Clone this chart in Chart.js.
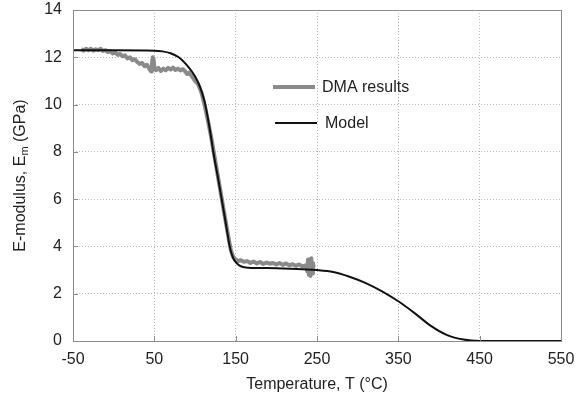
<!DOCTYPE html>
<html>
<head>
<meta charset="utf-8">
<script src="https://cdn.jsdelivr.net/npm/chart.js@4/dist/chart.umd.min.js"></script>
<style>
  html, body { margin: 0; padding: 0; background: #fff; }
  #wrap { width: 576px; height: 394px; }
</style>
</head>
<body>
<div id="wrap"><canvas id="modulus-chart" width="576" height="394"></canvas></div>
<script>
// Model curve (temperature in °C, modulus in GPa)
const modelTemps = [-50, 0, 50, 60, 70, 80, 90, 100, 106, 112, 118, 123, 128, 133, 138, 143, 147, 151, 157, 165, 200, 250, 270, 290, 310, 330, 350, 370, 390, 410, 430, 450, 550];
const modelValues = [12.3, 12.3, 12.28, 12.25, 12.17, 12.0, 11.67, 11.2, 10.76, 10.1, 9.0, 7.9, 6.95, 5.96, 4.95, 3.95, 3.5, 3.3, 3.15, 3.1, 3.08, 3.0, 2.92, 2.72, 2.45, 2.1, 1.68, 1.18, 0.64, 0.25, 0.06, 0, 0];

// DMA measurement (noisy)
const dmaTemps = [-40, -37, -34, -31, -28, -25, -22, -19, -16, -13, -10, -7, -4, -1, 2, 5, 8, 11, 14, 17, 20, 23, 26, 29, 32, 35, 38, 41, 44, 46, 47, 48, 49, 50, 52, 55, 58, 61, 64, 67, 70, 73, 76, 79, 82, 85, 88, 90, 93, 96, 100, 104, 108, 112, 116, 120, 125, 130, 135, 140, 144, 147, 150, 153, 156, 160, 164, 168, 172, 176, 180, 184, 188, 192, 196, 200, 204, 208, 212, 216, 220, 224, 228, 232, 236, 238, 239, 240, 241, 242, 243, 244, 245, 246];
const dmaValues = [12.35, 12.28, 12.36, 12.3, 12.36, 12.28, 12.34, 12.3, 12.36, 12.27, 12.3, 12.22, 12.26, 12.16, 12.2, 12.1, 12.14, 12.04, 12.08, 11.95, 12.0, 11.88, 11.92, 11.8, 11.72, 11.76, 11.62, 11.68, 11.5, 11.4, 11.7, 12.0, 11.95, 11.6, 11.45, 11.55, 11.42, 11.52, 11.45, 11.55, 11.48, 11.56, 11.46, 11.52, 11.44, 11.5, 11.4, 11.3, 11.35, 11.2, 11.0, 10.85, 10.5, 9.95, 9.3, 8.6, 7.6, 6.6, 5.6, 4.6, 3.85, 3.55, 3.45, 3.38, 3.42, 3.35, 3.38, 3.3, 3.36, 3.28, 3.34, 3.26, 3.32, 3.27, 3.3, 3.24, 3.3, 3.22, 3.28, 3.2, 3.25, 3.18, 3.24, 3.15, 3.2, 2.95, 3.45, 2.8, 3.4, 2.75, 3.5, 2.85, 3.3, 3.1];

const xTickValues = [-50, 50, 150, 250, 350, 450, 550];
const yTickValues = [0, 2, 4, 6, 8, 10, 12, 14];

const seriesNames = ['DMA results', 'Model'];
const seriesColors = ['#8a8a8a', '#111111'];

const toPoints = (xs, ys) => xs.map((x, i) => ({ x, y: ys[i] }));

const FONT = 'Liberation Sans, Arial, sans-serif';
const TEXT_COLOR = '#222';
const FRAME_COLOR = '#8c8c8c';
const GRID_COLOR = '#b8b8b8';

// frame, inner ticks, legend and y title with subscript
const decorPlugin = {
  id: 'decor',
  afterDraw(chart) {
    const { ctx, chartArea, scales } = chart;
    const { left, right, top, bottom } = chartArea;
    ctx.save();

    ctx.strokeStyle = FRAME_COLOR;
    ctx.lineWidth = 1;
    ctx.strokeRect(left + 0.5, top + 0.5, right - left, bottom - top);

    ctx.beginPath();
    yTickValues.forEach((v) => {
      const y = Math.round(scales.y.getPixelForValue(v)) + 0.5;
      ctx.moveTo(left, y);
      ctx.lineTo(left + 5, y);
    });
    xTickValues.forEach((v) => {
      const x = Math.round(scales.x.getPixelForValue(v)) + 0.5;
      ctx.moveTo(x, bottom);
      ctx.lineTo(x, bottom - 5);
    });
    ctx.stroke();

    // legend
    const lx = left + 200;
    const rows = [top + 77, top + 113];
    ctx.font = `16px ${FONT}`;
    ctx.fillStyle = TEXT_COLOR;
    ctx.textBaseline = 'middle';
    seriesNames.forEach((name, i) => {
      ctx.strokeStyle = seriesColors[i];
      ctx.lineWidth = i === 0 ? 4 : 2;
      ctx.beginPath();
      ctx.moveTo(lx + i * 2, rows[i]);
      ctx.lineTo(lx + 42 + i * 2, rows[i]);
      ctx.stroke();
      ctx.fillText(name, lx + (i === 0 ? 49 : 52), rows[i] + 1);
    });

    // y axis title
    const main = 'E-modulus, E';
    const sub = 'm';
    const tail = ' (GPa)';
    ctx.translate(21, (top + bottom) / 2);
    ctx.rotate(-Math.PI / 2);
    ctx.font = `16px ${FONT}`;
    const w1 = ctx.measureText(main).width;
    const w3 = ctx.measureText(tail).width;
    ctx.font = `11px ${FONT}`;
    const w2 = ctx.measureText(sub).width;
    const sx = -(w1 + w2 + w3) / 2;
    ctx.font = `16px ${FONT}`;
    ctx.fillText(main, sx, 0);
    ctx.font = `11px ${FONT}`;
    ctx.fillText(sub, sx + w1, 4);
    ctx.font = `16px ${FONT}`;
    ctx.fillText(tail, sx + w1 + w2, 0);

    ctx.restore();
  }
};

const canvas = document.getElementById('modulus-chart');

new Chart(canvas, {
  type: 'line',
  data: {
    datasets: [
      {
        label: seriesNames[0],
        data: toPoints(dmaTemps, dmaValues),
        borderColor: seriesColors[0],
        borderWidth: 4,
        borderJoinStyle: 'round',
        pointRadius: 0,
        tension: 0,
        order: 1
      },
      {
        label: seriesNames[1],
        data: toPoints(modelTemps, modelValues),
        borderColor: seriesColors[1],
        borderWidth: 2,
        pointRadius: 0,
        cubicInterpolationMode: 'monotone',
        order: 0
      }
    ]
  },
  options: {
    responsive: false,
    animation: false,
    layout: { padding: { top: 10, right: 15, left: 0, bottom: 0 } },
    plugins: {
      legend: { display: false },
      tooltip: { enabled: false }
    },
    scales: {
      x: {
        type: 'linear',
        min: -50,
        max: 550,
        afterBuildTicks: (axis) => { axis.ticks = xTickValues.map(v => ({ value: v })); },
        afterFit: (axis) => {
          axis.height = 53;
          axis.paddingLeft = 0;
          axis.paddingRight = 0;
        },
        grid: {
          color: GRID_COLOR,
          drawTicks: false
        },
        border: { display: false, dash: [1, 2] },
        ticks: {
          color: TEXT_COLOR,
          font: { family: FONT, size: 16 },
          padding: 9,
          maxRotation: 0
        },
        title: {
          display: true,
          text: 'Temperature, T (°C)',
          color: TEXT_COLOR,
          font: { family: FONT, size: 16 },
          padding: { top: 4, bottom: 0 }
        }
      },
      y: {
        min: 0,
        max: 14,
        afterBuildTicks: (axis) => { axis.ticks = yTickValues.map(v => ({ value: v })); },
        afterFit: (axis) => {
          axis.width = 73;
          axis.paddingTop = 0;
          axis.paddingBottom = 0;
        },
        grid: {
          color: GRID_COLOR,
          drawTicks: false
        },
        border: { display: false, dash: [1, 2] },
        ticks: {
          color: TEXT_COLOR,
          font: { family: FONT, size: 16 },
          padding: 11
        }
      }
    }
  },
  plugins: [decorPlugin]
});
</script>
</body>
</html>
